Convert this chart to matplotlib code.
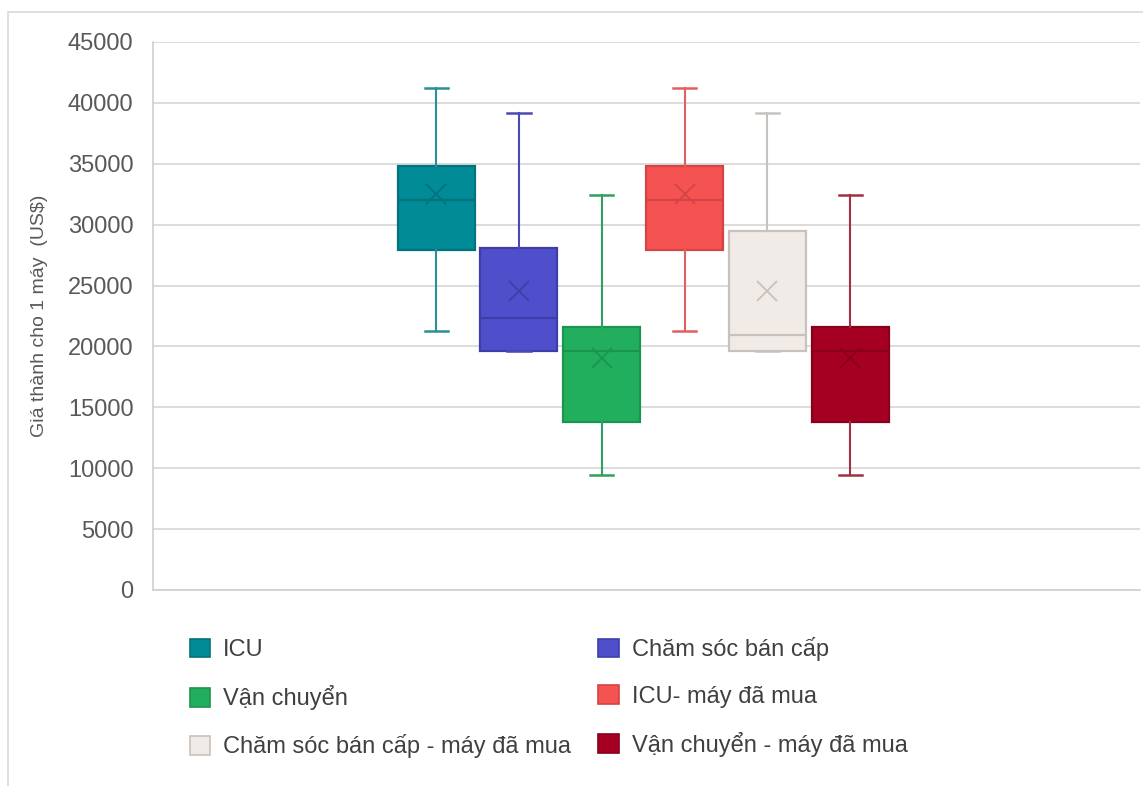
import matplotlib
matplotlib.use("Agg")
import matplotlib.pyplot as plt
from matplotlib.patches import Patch, Rectangle

plt.rcParams['font.family'] = ['Liberation Sans', 'DejaVu Sans']

# box statistics per group (US$ per machine)
labels = ["ICU", "Chăm sóc bán cấp", "Vận chuyển",
          "ICU- máy đã mua", "Chăm sóc bán cấp - máy đã mua", "Vận chuyển - máy đã mua"]
whislo = [21300, 19600, 9450, 21300, 19600, 9450]
q1 = [27900, 19600, 13800, 27900, 19600, 13800]
med = [32000, 22300, 19600, 32000, 20900, 19600]
q3 = [34800, 28100, 21600, 34800, 29450, 21600]
whishi = [41200, 39150, 32400, 41200, 39150, 32400]
means = [32500, 24550, 19050, 32500, 24550, 19050]

face = ["#008B96", "#4F4FCC", "#21AF5E", "#F55252", "#F0EBE6", "#A50021"]
edge = ["#00737D", "#3E3EA8", "#1B9450", "#D44444", "#C9C1BB", "#88001B"]
whisk = ["#2A8E97", "#4A4AB5", "#30A060", "#E06060", "#C8C2BE", "#A03045"]

fig = plt.figure(figsize=(11.43, 7.86), dpi=100)
ax = fig.add_axes([153 / 1143, 1 - 590 / 786, 987 / 1143, 548 / 786])

stats = []
for i in range(len(labels)):
    stats.append(dict(label=labels[i], whislo=whislo[i], q1=q1[i], med=med[i],
                      q3=q3[i], whishi=whishi[i], mean=means[i], fliers=[]))

pos = list(range(1, 7))
for i, s in enumerate(stats):
    ax.bxp([s], positions=[pos[i]], widths=0.93, patch_artist=True,
           showmeans=True, capwidths=0.28,
           boxprops=dict(facecolor=face[i], edgecolor=edge[i], linewidth=1.6),
           medianprops=dict(color=edge[i], linewidth=1.6),
           whiskerprops=dict(color=whisk[i], linewidth=1.5),
           capprops=dict(color=whisk[i], linewidth=1.8),
           meanprops=dict(marker='x', markeredgecolor=edge[i], markersize=15,
                          markeredgewidth=1.3))

ax.set_xlim(3.54 - 5.96, 3.54 + 5.96)
ax.set_ylim(0, 45000)
ax.set_yticks(range(0, 45001, 5000))
ax.set_xticks([])
ax.yaxis.grid(True, color="#d9d9d9", linewidth=1.3)
ax.set_axisbelow(True)
for sp in ['top', 'right']:
    ax.spines[sp].set_visible(False)
for sp in ['left', 'bottom']:
    ax.spines[sp].set_color("#d0d0d0")
    ax.spines[sp].set_linewidth(1.2)
ax.tick_params(axis='y', length=0, pad=14, labelsize=17, labelcolor="#595959")
ax.set_ylabel("Giá thành cho 1 máy  (US$)", fontsize=14, color="#595959")
ax.yaxis.set_label_coords(-0.106, 0.5)

# legend filled row by row
handles = [Patch(facecolor=face[i], edgecolor=edge[i], linewidth=1.2, label=labels[i])
           for i in range(6)]
order = [0, 2, 4, 1, 3, 5]
fig.legend([handles[i] for i in order], [labels[i] for i in order], ncol=2,
           loc='upper left', bbox_to_anchor=(169 / 1143, 1 - 616 / 786),
           frameon=False, fontsize=17, labelcolor="#404040",
           handlelength=0.85, handleheight=0.85, handletextpad=0.55,
           labelspacing=1.02, columnspacing=1.15)

# outer chart frame
fig.patches.append(Rectangle((8 / 1143, -0.01), 1.2, 1 - 12 / 786 + 0.01,
                             transform=fig.transFigure, fill=False,
                             edgecolor="#d9d9d9", linewidth=1.2))

fig.savefig("out.png", dpi=100)
